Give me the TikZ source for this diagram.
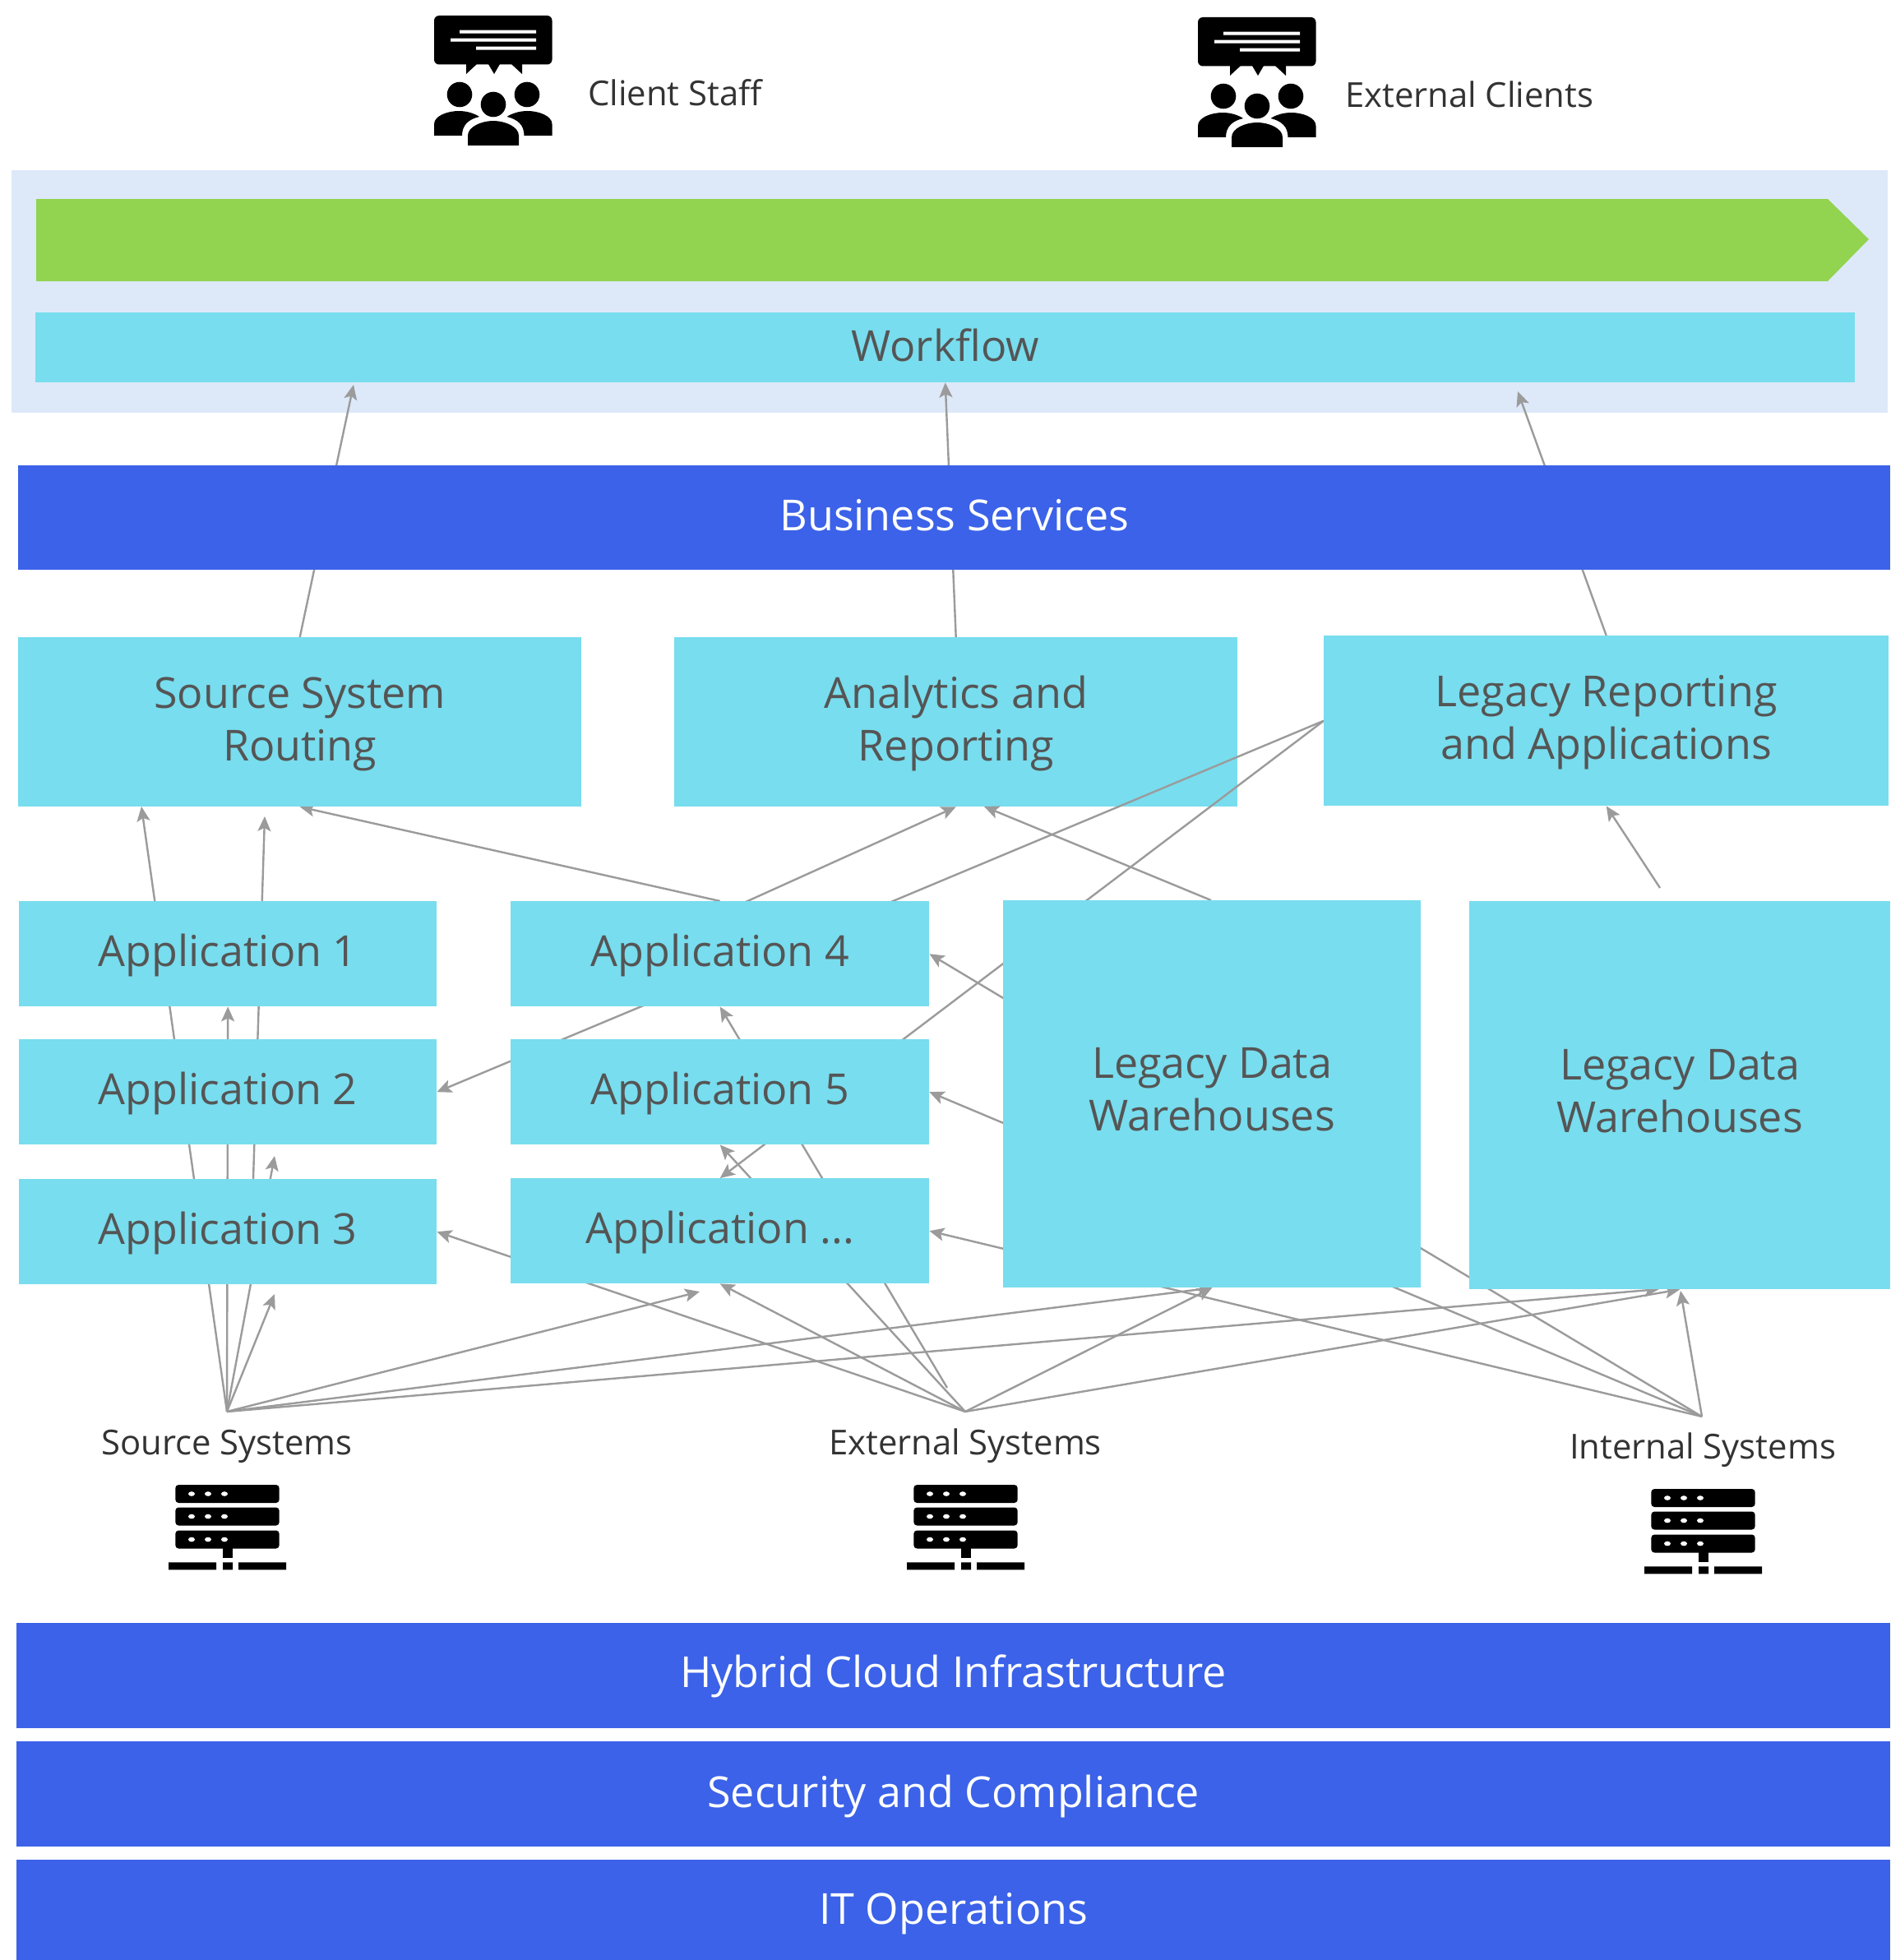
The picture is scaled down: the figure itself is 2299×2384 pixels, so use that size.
\documentclass[tikz,border=0pt]{standalone}
\usepackage{fontspec}
\setmainfont{Open Sans}
\usetikzlibrary{arrows.meta}
\definecolor{cy}{HTML}{78DDEE}
\definecolor{bl}{HTML}{3B62E8}
\definecolor{lt}{HTML}{DDE9F9}
\definecolor{gr}{HTML}{92D34F}
\definecolor{ln}{HTML}{9B9B9B}
\definecolor{tx}{HTML}{555555}
\definecolor{lb}{HTML}{333333}
\pgfdeclarelayer{under}
\pgfdeclarelayer{conn}
\pgfsetlayers{under,conn,main}
\newcommand{\tophgt}[1]{\rule{0pt}{#1pt}}
\newcommand{\botdp}[1]{\rule[-#1pt]{0pt}{0pt}}
\tikzset{
  box/.style={fill=cy,draw=none,anchor=north west,inner sep=0pt,align=center,text=tx,font=\fontsize{52}{64}\selectfont},
  appbox/.style={box,text height=41pt,text depth=11pt},
  band/.style={fill=bl,draw=none,anchor=north west,inner sep=0pt,text=white,font=\fontsize{52}{64}\selectfont},
  lab/.style={inner sep=0pt,text=lb,font=\fontsize{41.8}{48}\selectfont},
  conn/.style={draw=ln,line width=2.4pt,-{Stealth[length=18pt,width=16pt,inset=4pt]}},
  peopleicon/.pic={
    \fill[black,rounded corners=6pt] (0,0) rectangle (143.5,59.5);
    \fill (39,59)--(39,71)--(52,59)--cycle (66,59)--(73,71)--(80,59)--cycle (94,59)--(107,71)--(107,59)--cycle;
    \fill[white] (31,17.7) rectangle (124,21.7) (20,27.7) rectangle (124,31.7) (51,37.7) rectangle (124,41.7);
    \fill (31,96) circle[radius=15.3pt] (113,96) circle[radius=15.3pt] (72,108) circle[radius=15.3pt];
    \fill (41,158)--(41,146) .. controls (41,135) and (58,128) .. (72,128) .. controls (86,128) and (103,135) .. (103,146)--(103,158)--cycle;
    \fill (0,146)--(0,132) .. controls (0,122) and (16,116) .. (30,116) .. controls (40,116) and (49,119) .. (55,123) .. controls (42,126) and (34,133) .. (34,146)--cycle;
    \fill (143.5,146)--(143.5,132) .. controls (143.5,122) and (127.5,116) .. (113.5,116) .. controls (103.5,116) and (94.5,119) .. (88.5,123) .. controls (101.5,126) and (109.5,133) .. (109.5,146)--cycle;
  },
  servericon/.pic={
    \foreach \yy in {0,27.5,55.5}{
      \fill[rounded corners=4pt] (8.3,\yy) rectangle (134.7,\yy+22);
      \foreach \xx in {28,48,68}{\fill[white] (\xx,\yy+11) ellipse[x radius=4pt,y radius=2.8pt];}
    }
    \fill (66,77) rectangle (78,89);
    \fill (0,94.3) rectangle (58,103.3) (66,94.3) rectangle (78,103.3) (85,94.3) rectangle (143,103.3);
  }
}
\begin{document}
\begin{tikzpicture}[x=1pt,y=-1pt]
\useasboundingbox (0,0) rectangle (2299,2384);
\begin{pgfonlayer}{under}
\fill[white] (0,0) rectangle (2299,2384);
\fill[lt] (14,207) rectangle (2296,502);
\node[box,minimum width=685pt,minimum height=206pt] (ana) at (820,775) {\tophgt{43}Analytics and\\Reporting};
\end{pgfonlayer}
\pic at (528,19) {peopleicon};
\pic at (1457,21) {peopleicon};
\node[lab,anchor=base west] (client) at (715,128.5) {Client Staff};
\node[lab,anchor=base west] (extc) at (1636,130.5) {External Clients};
\fill[gr] (44,242)--(2223,242)--(2273,291)--(2223,342)--(44,342)--cycle;
\node[box,minimum width=2213pt,minimum height=85pt,text height=37pt,text depth=3pt] (workflow) at (43,380) {Workflow};
\node[band,minimum width=2277pt,minimum height=127pt,text height=40pt,text depth=8pt] (bs) at (22,566) {Business Services};
\node[box,minimum width=685pt,minimum height=206pt] (ssr) at (22,775) {\tophgt{44}Source System\\Routing};
\node[box,minimum width=687pt,minimum height=207pt] (lrep) at (1610,773) {\tophgt{43}Legacy Reporting\\and Applications};
\node[appbox,minimum width=508pt,minimum height=128pt] (app1) at (23,1096) {Application 1};
\node[appbox,minimum width=508pt,minimum height=128pt] (app2) at (23,1264) {Application 2};
\node[appbox,minimum width=508pt,minimum height=128pt] (app3) at (23,1434) {Application 3};
\node[appbox,minimum width=509pt,minimum height=128pt] (app4) at (621,1096) {Application 4};
\node[appbox,minimum width=509pt,minimum height=128pt] (app5) at (621,1264) {Application 5};
\node[appbox,minimum width=509pt,minimum height=128pt] (appx) at (621,1433) {Application ...};
\node[box,minimum width=508pt,minimum height=471pt] (dw1) at (1220,1095) {Legacy Data\\Warehouses\botdp{12}};
\node[box,minimum width=512pt,minimum height=472pt] (dw2) at (1787,1096) {Legacy Data\\Warehouses\botdp{10}};
\node[lab,anchor=base] (srclab) at (276,1769.5) {Source Systems};
\node[lab,anchor=base] (extlab) at (1174,1769.5) {External Systems};
\node[lab,anchor=base] (intlab) at (2071,1774.5) {Internal Systems};
\pic at (205,1806) {servericon};
\pic at (1103,1806) {servericon};
\pic at (2000,1811) {servericon};
\node[band,minimum width=2279pt,minimum height=128pt,text height=38.5pt,text depth=9.5pt] (hyb) at (20,1974) {Hybrid Cloud Infrastructure};
\node[band,minimum width=2279pt,minimum height=128pt,text height=40pt,text depth=8pt] (sec) at (20,2118) {Security and Compliance};
\node[band,minimum width=2279pt,minimum height=122pt,text height=41pt,text depth=7pt] (itop) at (20,2262) {IT Operations};
% free ends
\coordinate (srchub) at (276,1717);
\coordinate (exthub) at (1174,1717);
\coordinate (inthub) at (2070,1723);
\coordinate (wfa) at (430,468);
\coordinate (wfc) at (1846,476);
\coordinate (ra) at (172,981);
\coordinate (rb) at (322,993);
\coordinate (rbs) at (308,1434);
\coordinate (belowtwo) at (334,1406);
\coordinate (belowthree) at (334,1574);
\coordinate (belowx) at (851,1571);
\coordinate (dwtwoa) at (2018,1568);
\coordinate (dwtwoc) at (2044,1570);
\coordinate (anab) at (1197,981);
\coordinate (dwone) at (1473,1095);
\coordinate (lrs) at (2019,1080);
\coordinate (afour) at (823,1135);
\coordinate (extstart) at (1152,1688);
\begin{pgfonlayer}{conn}
\draw[conn] (ssr.north) -- (wfa);
\draw[conn] (ana.north) -- (workflow.south);
\draw[conn] (lrep.north) -- (wfc);
\draw[conn] (srchub) -- (ra);
\draw[conn] (rbs) -- (rb);
\draw[conn] (srchub) -- (app1.south);
\draw[conn] (srchub) -- (belowtwo);
\draw[conn] (srchub) -- (belowthree);
\draw[conn] (srchub) -- (belowx);
\draw[conn] (srchub) -- (dw1.south);
\draw[conn] (srchub) -- (dwtwoa);
\draw[conn] (exthub) -- (app3.east);
\draw[conn] (exthub) -- (appx.south);
\draw[conn] (exthub) -- (app5.south);
\draw[conn] (extstart) -- (app4.south);
\draw[conn] (exthub) -- (dw1.south);
\draw[conn] (exthub) -- (dw2.south);
\draw[conn] (inthub) -- (dwtwoc);
\draw[conn] (inthub) -- (appx.east);
\draw[conn] (inthub) -- (app5.east);
\draw[conn] (inthub) -- (app4.east);
\draw[conn] (lrep.west) -- (appx.north);
\draw[conn] (lrep.west) -- (app2.east);
\draw[conn] (app4.north) -- (ssr.south);
\draw[conn] (afour) -- (ana.south);
\draw[conn] (dwone) -- (anab);
\draw[conn] (lrs) -- (lrep.south);
\end{pgfonlayer}
\end{tikzpicture}
\end{document}
